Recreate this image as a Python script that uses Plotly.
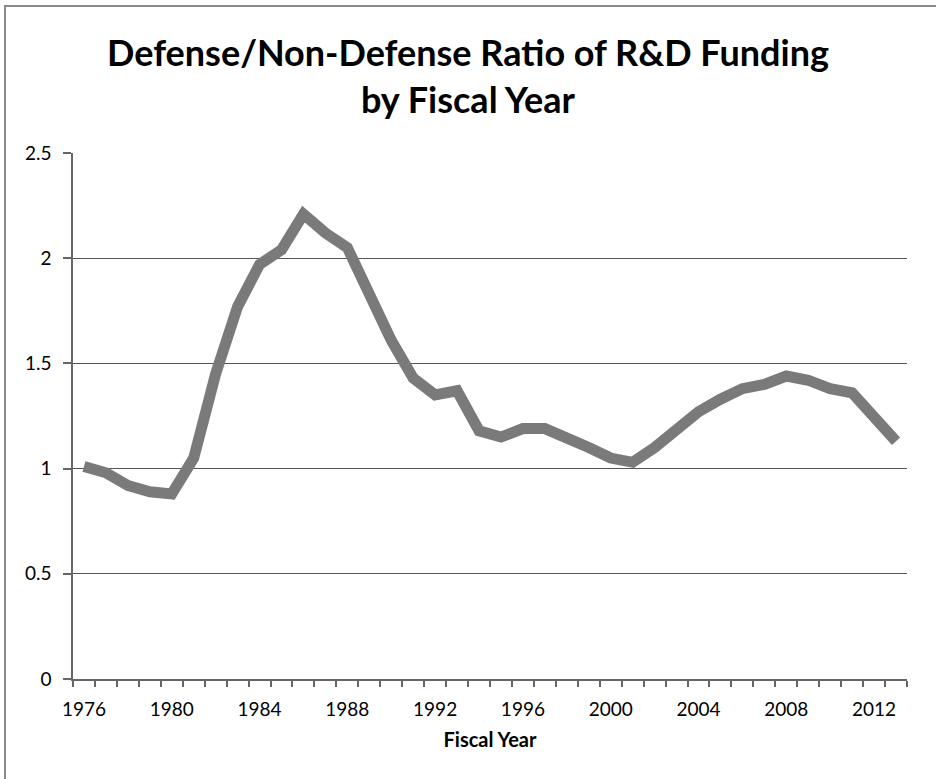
import plotly.graph_objects as go

years = list(range(1976, 2014))
ratio = [1.01, 0.98, 0.92, 0.89, 0.88, 1.05, 1.45, 1.77, 1.97, 2.04,
         2.21, 2.12, 2.05, 1.83, 1.61, 1.43, 1.35, 1.37, 1.18, 1.15,
         1.19, 1.19, 1.15, 1.10, 1.05, 1.03, 1.10, 1.18, 1.27, 1.33,
         1.38, 1.40, 1.44, 1.42, 1.38, 1.36, 1.25, 1.13]
xtick_years = list(range(1976, 2013, 4))
ytick_vals = [0, 0.5, 1, 1.5, 2, 2.5]
ytick_text = ["0", "0.5", "1", "1.5", "2", "2.5"]

FONT = "Lato, 'Open Sans', sans-serif"
W, H = 936, 779
L, R, T, B = 73, 29, 153, 100

fig = go.Figure()
fig.add_trace(go.Scatter(
    x=years, y=ratio, mode="lines",
    line=dict(color="#7a7a7a", width=11),
    hoverinfo="x+y", showlegend=False,
))

pw = W - L - R
ph = H - T - B
def px(xp): return (xp - L) / pw
def py(yp): return (H - B - yp) / ph

fig.update_layout(
    width=W, height=H,
    margin=dict(l=L, r=R, t=T, b=B),
    paper_bgcolor="white", plot_bgcolor="white",
    title=dict(
        text="Defense/Non-Defense Ratio of R&amp;D Funding<br>by Fiscal Year",
        x=0.5, xref="container", xanchor="center",
        y=1 - 66 / H, yref="container", yanchor="middle",
        font=dict(family=FONT, size=36, color="black", weight="bold"),
    ),
    font=dict(family=FONT, color="black"),
    xaxis=dict(
        range=[1975.5, 2013.5],
        tickmode="array", tickvals=xtick_years,
        ticktext=[str(v) for v in xtick_years],
        ticks="outside", ticklen=12, tickcolor="rgba(0,0,0,0)",
        tickfont=dict(family=FONT, size=19, color="black"),
        showline=True, linecolor="#666666", linewidth=1.5,
        showgrid=False, zeroline=False,
        minor=dict(tickmode="array",
                   tickvals=[y + 0.5 for y in range(1975, 2014)],
                   ticks="outside", ticklen=6, tickcolor="#666666",
                   tickwidth=1.5, showgrid=False),
        title=dict(text="Fiscal Year", standoff=14,
                   font=dict(family=FONT, size=20, color="black", weight="bold")),
    ),
    yaxis=dict(
        range=[0, 2.5],
        tickmode="array", tickvals=ytick_vals, ticktext=ytick_text,
        ticks="outside", ticklen=8, tickcolor="#666666", tickwidth=1.5,
        ticklabelstandoff=8,
        tickfont=dict(family=FONT, size=19, color="black"),
        showline=True, linecolor="#666666", linewidth=1.5,
        showgrid=True, gridcolor="#555555", gridwidth=1.2,
        zeroline=False,
    ),
    shapes=[dict(type="rect", xref="paper", yref="paper",
                 x0=px(5), x1=px(945), y0=py(790), y1=py(6),
                 line=dict(color="#8a8a8a", width=2), fillcolor="rgba(0,0,0,0)",
                 layer="below")],
)

fig.write_html("out.html")
